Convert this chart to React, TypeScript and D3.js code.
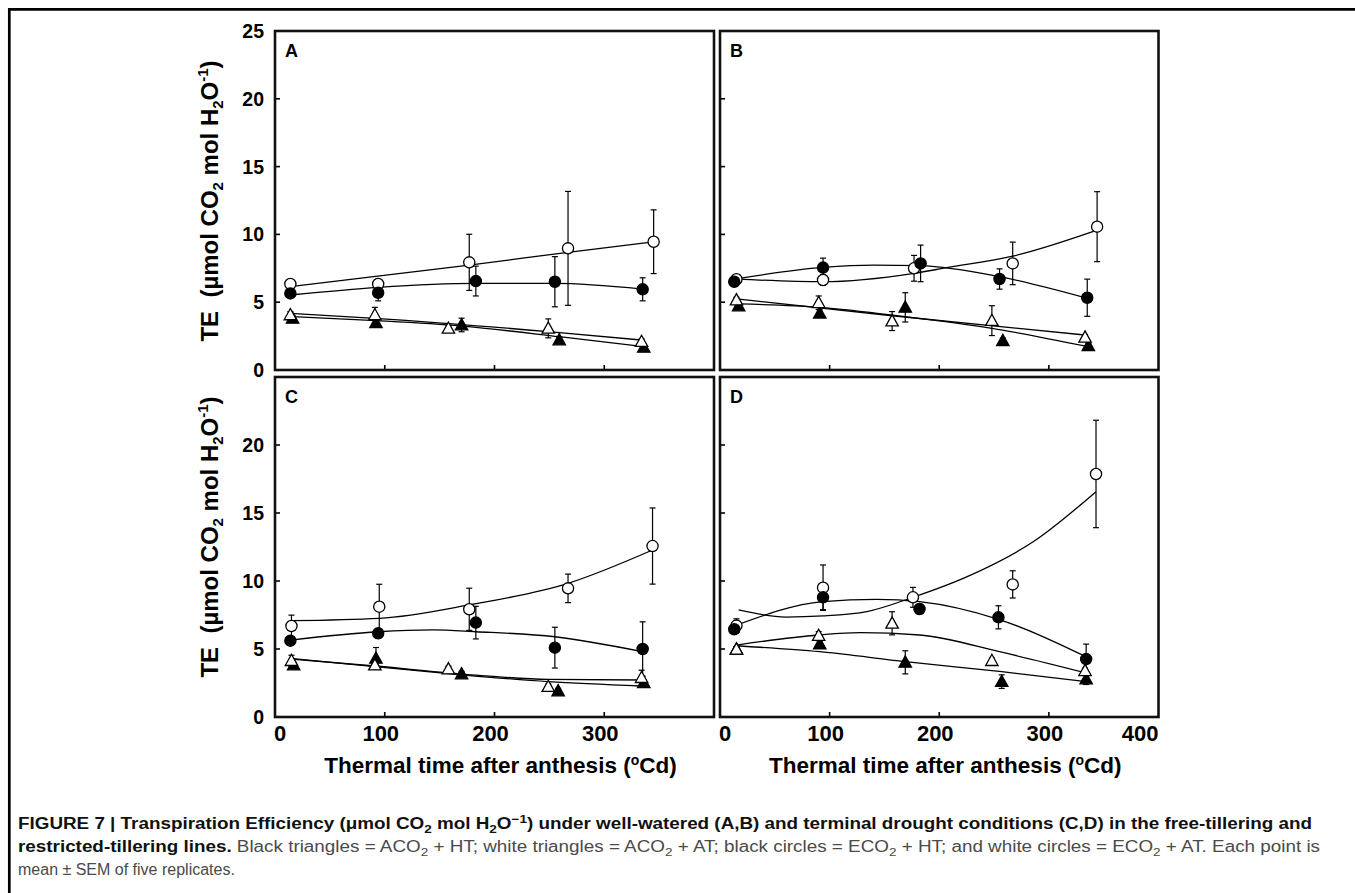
import React from "react";
import * as d3 from "d3";

// each point: [thermal time (oCd), mean TE, SEM]
// black triangles = ACO2 + HT, white triangles = ACO2 + AT
// black circles = ECO2 + HT, white circles = ECO2 + AT

// Panel A
const aBlackTri = [[16, 3.81, 0.2], [92, 3.49, 0.2], [170, 3.32, 0.5], [259, 2.21, 0.2], [336, 1.67, 0.15]];
const aWhiteTri = [[14, 4.06, 0.25], [91, 4.06, 0.56], [158, 3.07, 0.2], [249, 3.07, 0.7], [334, 2.09, 0.2]];
const aBlackCirc = [[14, 5.65, 0.3], [94, 5.7, 0.6], [183, 6.56, 1.1], [255, 6.51, 1.85], [335, 5.95, 0.85]];
const aWhiteCirc = [[14, 6.34, 0.2], [94, 6.34, 0.35], [177, 7.94, 2.07], [267, 8.97, 4.2], [345, 9.46, 2.35]];
// fitted curves: [thermal time, TE]
const aBlackTriFit = [[16, 3.93], [92, 3.64], [170, 3.24], [259, 2.46], [336, 1.72]];
const aWhiteTriFit = [[14, 4.18], [91, 3.81], [249, 2.83], [334, 2.21]];
const aBlackCircFit = [[14, 5.53], [94, 6.1], [183, 6.39], [255, 6.39], [335, 5.97]];
const aWhiteCircFit = [[14, 6.15], [177, 7.74], [267, 8.68], [345, 9.46]];

// Panel B
const bBlackTri = [[17, 4.72, 0.2], [91, 4.18, 0.25], [169, 4.62, 1.08], [258, 2.16, 0.2], [336, 1.79, 0.15]];
const bWhiteTri = [[15, 5.16, 0.2], [90, 4.96, 0.5], [157, 3.61, 0.7], [248, 3.64, 1.1], [333, 2.41, 0.2]];
const bBlackCirc = [[13, 6.51, 0.2], [94, 7.55, 0.7], [183, 7.86, 1.35], [255, 6.71, 0.75], [335, 5.33, 1.37]];
const bWhiteCirc = [[15, 6.69, 0.2], [94, 6.64, 0.4], [177, 7.5, 0.95], [267, 7.86, 1.57], [344, 10.57, 2.58]];
const bBlackTriFit = [[17, 4.87], [91, 4.62], [169, 3.93], [248, 3.07], [336, 1.72]];
const bWhiteTriFit = [[15, 5.24], [157, 4.0], [333, 2.58]];
const bBlackCircFit = [[13, 6.7], [94, 7.57], [140, 7.74], [183, 7.69], [255, 6.88], [335, 5.29]];
const bWhiteCircFit = [[15, 6.7], [94, 6.51], [177, 7.13], [207, 7.55], [267, 8.4], [344, 10.32]];

// Panel C
const cBlackTri = [[17, 3.82, 0.2], [92, 4.31, 0.8], [170, 3.16, 0.2], [258, 1.91, 0.2], [336, 2.52, 0.2]];
const cWhiteTri = [[15, 4.14, 0.4], [91, 3.82, 0.2], [158, 3.53, 0.2], [249, 2.23, 0.2], [334, 2.89, 0.55]];
const cBlackCirc = [[14, 5.61, 0.3], [94, 6.15, 0.35], [183, 6.94, 1.2], [255, 5.1, 1.5], [335, 5.0, 2.0]];
const cWhiteCirc = [[15, 6.69, 0.8], [95, 8.11, 1.65], [177, 7.92, 1.55], [267, 9.46, 1.05], [344, 12.57, 2.8]];
const cBlackTriFit = [[15, 4.3], [91, 3.7], [170, 3.1], [249, 2.6], [334, 2.28]];
const cWhiteTriFit = [[15, 4.26], [91, 3.75], [170, 3.16], [249, 2.77], [334, 2.72]];
const cBlackCircFit = [[14, 5.66], [94, 6.27], [144, 6.4], [183, 6.27], [255, 5.9], [335, 4.8]];
const cWhiteCircFit = [[15, 7.08], [95, 7.25], [177, 8.24], [267, 9.83], [344, 12.28]];

// Panel D
const dBlackTri = [[15, 4.98, 0.2], [91, 5.37, 0.2], [169, 4.02, 0.85], [257, 2.6, 0.5], [334, 2.79, 0.4]];
const dWhiteTri = [[15, 4.98, 0.2], [90, 5.98, 0.3], [157, 6.89, 0.85], [248, 4.14, 0.2], [333, 3.4, 0.2]];
const dBlackCirc = [[13, 6.45, 0.2], [94, 8.8, 0.9], [182, 7.94, 0.35], [254, 7.33, 0.85], [334, 4.26, 1.1]];
const dWhiteCirc = [[15, 6.72, 0.5], [94, 9.51, 1.67], [176, 8.8, 0.73], [267, 9.75, 1.0], [343, 17.87, 3.95]];
const dBlackTriFit = [[15, 5.24], [91, 4.8], [169, 4.07], [257, 3.33], [334, 2.6]];
const dWhiteTriFit = [[15, 5.29], [90, 6.03], [128, 6.2], [182, 6.03], [255, 4.8], [333, 3.26]];
const dBlackCircFit = [[13, 6.69], [94, 8.48], [143, 8.65], [182, 8.48], [254, 7.18], [334, 4.43]];
const dWhiteCircFit = [[17, 7.87], [60, 7.35], [94, 7.43], [134, 7.75], [176, 8.8], [225, 10.3], [286, 12.9], [343, 16.57]];

const xTicks = [0, 100, 200, 300, 400];
const yTicks = [0, 5, 10, 15, 20, 25];

const panels = [
  { label: "A", col: 0, row: 0, series: [aBlackTri, aWhiteTri, aWhiteCirc, aBlackCirc], fits: [aBlackTriFit, aWhiteTriFit, aBlackCircFit, aWhiteCircFit] },
  { label: "B", col: 1, row: 0, series: [bBlackTri, bWhiteTri, bWhiteCirc, bBlackCirc], fits: [bBlackTriFit, bWhiteTriFit, bBlackCircFit, bWhiteCircFit] },
  { label: "C", col: 0, row: 1, series: [cBlackTri, cWhiteTri, cWhiteCirc, cBlackCirc], fits: [cBlackTriFit, cWhiteTriFit, cBlackCircFit, cWhiteCircFit] },
  { label: "D", col: 1, row: 1, series: [dBlackTri, dWhiteTri, dWhiteCirc, dBlackCirc], fits: [dBlackTriFit, dWhiteTriFit, dBlackCircFit, dWhiteCircFit] },
];
// marker style for the series order above
const markers = [
  { shape: "tri", fill: "#000" },
  { shape: "tri", fill: "#fff" },
  { shape: "circ", fill: "#fff" },
  { shape: "circ", fill: "#000" },
];

const W = 1355;
const H = 893;
const FONT = '"Liberation Sans", Arial, Helvetica, sans-serif';
const colRange = [[275, 714], [720, 1158.5]];
const rowRange = [[370, 31], [717, 377]];

function Panel({ p }: { p: any }) {
  const x = d3.scaleLinear().domain([0, 400]).range(colRange[p.col]);
  const y = d3.scaleLinear().domain([0, 25]).range(rowRange[p.row]);
  const line = d3
    .line<number[]>()
    .x(d => x(d[0]))
    .y(d => y(d[1]))
    .curve(d3.curveMonotoneX);

  const x0 = x(0), x1 = x(400), y0 = y(0), y1 = y(25);
  const showY = p.col === 0;
  const showX = p.row === 1;
  const yLabels = p.row === 0 ? yTicks : yTicks.filter(t => t < 25);
  const xLabels = p.col === 0 ? xTicks.filter(t => t < 400) : xTicks;

  return (
    <g>
      {/* inward ticks */}
      {yTicks.slice(1, -1).map(t => (
        <line key={"yt" + t} x1={x0} x2={x0 + 5} y1={y(t)} y2={y(t)} stroke="#000" strokeWidth={1.6} />
      ))}
      {xTicks.slice(1, -1).map(t => (
        <line key={"xt" + t} x1={x(t)} x2={x(t)} y1={y0} y2={y0 - 5} stroke="#000" strokeWidth={1.6} />
      ))}

      {/* fitted curves */}
      {p.fits.map((f: number[][], i: number) => (
        <path key={"f" + i} d={line(f) || ""} fill="none" stroke="#000" strokeWidth={1.3} />
      ))}

      {/* error bars */}
      {p.series.map((s: number[][], i: number) =>
        s.map((d, j) => {
          const cx = x(d[0]);
          const ya = y(d[1] + d[2]);
          const yb = y(d[1] - d[2]);
          return (
            <g key={"e" + i + "-" + j} stroke="#000" strokeWidth={1.2}>
              <line x1={cx} x2={cx} y1={ya} y2={yb} />
              <line x1={cx - 3} x2={cx + 3} y1={ya} y2={ya} />
              <line x1={cx - 3} x2={cx + 3} y1={yb} y2={yb} />
            </g>
          );
        })
      )}

      {/* markers */}
      {p.series.map((s: number[][], i: number) =>
        s.map((d, j) => {
          const cx = x(d[0]);
          const cy = y(d[1]);
          const m = markers[i];
          if (m.shape === "circ") {
            return <circle key={"m" + i + "-" + j} cx={cx} cy={cy} r={5.6} fill={m.fill} stroke="#000" strokeWidth={1.3} />;
          }
          return (
            <path
              key={"m" + i + "-" + j}
              d={`M${cx},${cy - 6.4}L${cx + 6.2},${cy + 4.8}L${cx - 6.2},${cy + 4.8}Z`}
              fill={m.fill}
              stroke="#000"
              strokeWidth={1.3}
              strokeLinejoin="miter"
            />
          );
        })
      )}

      {/* frame */}
      <rect x={x0} y={y1} width={x1 - x0} height={y0 - y1} fill="none" stroke="#111" strokeWidth={2.6} />

      <text x={x0 + 10} y={y1 + 26} fontFamily={FONT} fontWeight="bold" fontSize={18}>
        {p.label}
      </text>

      {showY &&
        yLabels.map(t => (
          <text key={"yl" + t} x={264} y={y(t) + 7} textAnchor="end" fontFamily={FONT} fontWeight="bold" fontSize={19.5}>
            {t}
          </text>
        ))}
      {showX &&
        xLabels.map(t => (
          <text
            key={"xl" + t}
            x={t === 0 ? x(t) - 1 : t === 400 ? x(t) : x(t) - 4}
            y={741}
            textAnchor={t === 0 ? "start" : t === 400 ? "end" : "middle"}
            fontFamily={FONT}
            fontWeight="bold"
            fontSize={22}
          >
            {t}
          </text>
        ))}
      {showX && (
        <text x={(x0 + x1) / 2 + 6} y={773} textAnchor="middle" fontFamily={FONT} fontWeight="bold" fontSize={22.5}>
          {"Thermal time after anthesis ("}
          <tspan dy={-8} fontSize={14}>o</tspan>
          <tspan dy={8}>{"Cd)"}</tspan>
        </text>
      )}
    </g>
  );
}

function YTitle({ cy }: { cy: number }) {
  return (
    <text
      transform={`translate(218,${cy}) rotate(-90)`}
      textAnchor="middle"
      fontFamily={FONT}
      fontWeight="bold"
      fontSize={24}
    >
      {"TE\u00a0\u00a0(\u00b5mol CO"}
      <tspan dy={5} fontSize={15}>2</tspan>
      <tspan dy={-5}>{" mol H"}</tspan>
      <tspan dy={5} fontSize={15}>2</tspan>
      <tspan dy={-5}>O</tspan>
      <tspan dy={-10} fontSize={15}>-1</tspan>
      <tspan dy={10}>)</tspan>
    </text>
  );
}

export default function App() {
  const sub = (k: string) => (
    <>
      <tspan dy={4} fontSize={11.5}>2</tspan>
      <tspan dy={-4}>{k}</tspan>
    </>
  );
  return (
    <svg width={W} height={H} style={{ position: "absolute", left: 0, top: 0, display: "block", background: "#fff" }}>
      <rect width={W} height={H} fill="#fff" />
      <path d={`M9.3,${H} L9.3,9.3 L${W},9.3`} fill="none" stroke="#000" strokeWidth={2.7} />

      {panels.map(p => (
        <Panel key={p.label} p={p} />
      ))}

      <YTitle cy={201} />
      <YTitle cy={537} />

      {/* caption */}
      <text x={18} y={829} fontFamily={FONT} fontWeight="bold" fontSize={16} fill="#111" textLength={1294} lengthAdjust="spacingAndGlyphs">
        {"FIGURE 7 | Transpiration Efficiency (\u03bcmol CO"}
        <tspan dy={4} fontSize={11.5}>2</tspan>
        <tspan dy={-4}>{" mol H"}</tspan>
        <tspan dy={4} fontSize={11.5}>2</tspan>
        <tspan dy={-4}>O</tspan>
        <tspan dy={-6} fontSize={11.5}>{"\u22121"}</tspan>
        <tspan dy={6}>{") under well-watered (A,B) and terminal drought conditions (C,D) in the free-tillering and"}</tspan>
      </text>
      <text x={18} y={852} fontFamily={FONT} fontSize={16} fill="#4a4a4a" textLength={1302} lengthAdjust="spacingAndGlyphs">
        <tspan fontWeight="bold" fill="#111">{"restricted-tillering lines."}</tspan>
        {" Black triangles = ACO"}
        {sub(" + HT; white triangles = ACO")}
        {sub(" + AT; black circles = ECO")}
        {sub(" + HT; and white circles = ECO")}
        {sub(" + AT. Each point is")}
      </text>
      <text x={18} y={875} fontFamily={FONT} fontSize={16} fill="#4a4a4a">
        {"mean \u00b1 SEM of five replicates."}
      </text>
    </svg>
  );
}
